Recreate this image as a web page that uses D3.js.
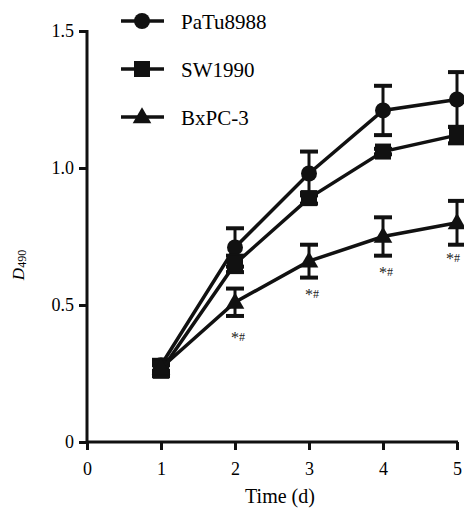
<!DOCTYPE html>
<html lang="en">
<head>
    <meta charset="UTF-8">
    <title>D490 growth curve</title>
    <script src="https://d3js.org/d3.v7.min.js"></script>
    <style>
        body { margin: 0; background: #fff; }
        text { font-family: "Liberation Serif", "Tinos", "Times New Roman", "DejaVu Serif", serif; fill: #000; }
    </style>
</head>
<body>
    <svg id="chart" width="464" height="509"></svg>
    <script>
        // data
        const days = [1, 2, 3, 4, 5];
        const xTicks = [0, 1, 2, 3, 4, 5];
        const yTicks = [0, 0.5, 1.0, 1.5];
        const seriesNames = ["PaTu8988", "SW1990", "BxPC-3"];
        const patu = [0.28, 0.71, 0.98, 1.21, 1.25];
        const patuErr = [0.02, 0.07, 0.08, 0.09, 0.10];
        const sw = [0.26, 0.65, 0.89, 1.06, 1.12];
        const swErr = [0.02, 0.03, 0.02, 0.01, 0.03];
        const bx = [0.27, 0.51, 0.66, 0.75, 0.80];
        const bxErr = [0.02, 0.05, 0.06, 0.07, 0.08];
        const sigLabels = ["", "*#", "*#", "*#", "*#"];
        const sigLevel = [0, 0.36, 0.52, 0.60, 0.65];

        const svg = d3.select("#chart");
        const x = d3.scaleLinear().domain([0, 5]).range([87, 457]);
        const y = d3.scaleLinear().domain([0, 1.5]).range([442, 31]);

        // axes
        const xAxis = svg.append("g").attr("transform", "translate(0,442)")
            .call(d3.axisBottom(x).tickValues(xTicks).tickFormat(d3.format("d")).tickSize(8).tickPadding(12));
        const yAxis = svg.append("g").attr("transform", "translate(87,0)")
            .call(d3.axisLeft(y).tickValues(yTicks).tickFormat(d => d === 0 ? "0" : d3.format(".1f")(d)).tickSize(8).tickPadding(5));
        [xAxis, yAxis].forEach(a => {
            a.attr("font-family", null);
            a.select(".domain").attr("stroke", "#111").attr("stroke-width", 3);
            a.selectAll(".tick line").attr("stroke", "#111").attr("stroke-width", 3);
            a.selectAll(".tick text").attr("font-size", 18).attr("fill", "#000");
        });
        xAxis.select(".domain").attr("d", "M86,0H458");
        yAxis.select(".domain").attr("d", "M0,443V30");

        svg.append("text").attr("x", 280).attr("y", 503).attr("text-anchor", "middle")
            .attr("font-size", 20).text("Time (d)");
        const yl = svg.append("text").attr("transform", "translate(24,265) rotate(-90)")
            .attr("text-anchor", "middle").attr("font-size", 17);
        yl.append("tspan").attr("font-style", "italic").text("D");
        yl.append("tspan").attr("font-size", 12).attr("dy", 2).text("490");

        const series = [
            { name: seriesNames[0], vals: patu, err: patuErr, shape: "circle" },
            { name: seriesNames[1], vals: sw, err: swErr, shape: "square" },
            { name: seriesNames[2], vals: bx, err: bxErr, shape: "triangle" }
        ];

        function marker(g, shape, cx, cy) {
            if (shape === "circle") {
                g.append("circle").attr("cx", cx).attr("cy", cy).attr("r", 8).attr("fill", "#111");
            } else if (shape === "square") {
                g.append("rect").attr("x", cx - 8).attr("y", cy - 8).attr("width", 16).attr("height", 16).attr("fill", "#111");
            } else {
                g.append("path").attr("d", d3.symbol(d3.symbolTriangle, 150)()).attr("transform", `translate(${cx},${cy + 1})`).attr("fill", "#111");
            }
        }

        const line = d3.line().x((d, i) => x(days[i])).y(d => y(d));

        series.forEach(s => {
            const g = svg.append("g");
            // error bars
            s.vals.forEach((v, i) => {
                const cx = x(days[i]);
                const e = s.err[i];
                g.append("line").attr("x1", cx).attr("x2", cx).attr("y1", y(v + e)).attr("y2", y(v - e))
                    .attr("stroke", "#111").attr("stroke-width", 3);
                [v + e, v - e].forEach(t => g.append("line").attr("x1", cx - 9).attr("x2", cx + 9)
                    .attr("y1", y(t)).attr("y2", y(t)).attr("stroke", "#111").attr("stroke-width", 4));
            });
            g.append("path").datum(s.vals).attr("d", line).attr("fill", "none")
                .attr("stroke", "#111").attr("stroke-width", 3.5);
            s.vals.forEach((v, i) => marker(g, s.shape, x(days[i]), y(v)));
        });

        // significance labels under BxPC-3
        sigLabels.forEach((lab, i) => {
            if (!lab) return;
            const t = svg.append("text").attr("x", Math.min(x(days[i]) + 3, 453)).attr("y", y(sigLevel[i]))
                .attr("text-anchor", "middle").attr("font-size", 16).style("fill", "#222");
            t.append("tspan").text(lab[0]);
            t.append("tspan").attr("font-size", 12).attr("dy", -2).text(lab[1]);
        });

        // legend
        const leg = svg.append("g");
        series.forEach((s, i) => {
            const ly = 21 + i * 48;
            leg.append("line").attr("x1", 121).attr("x2", 164).attr("y1", ly).attr("y2", ly)
                .attr("stroke", "#111").attr("stroke-width", 3.5);
            marker(leg, s.shape, 142, ly);
            leg.append("text").attr("x", 181).attr("y", ly + 8).attr("font-size", 21).text(s.name);
        });
    </script>
</body>
</html>
